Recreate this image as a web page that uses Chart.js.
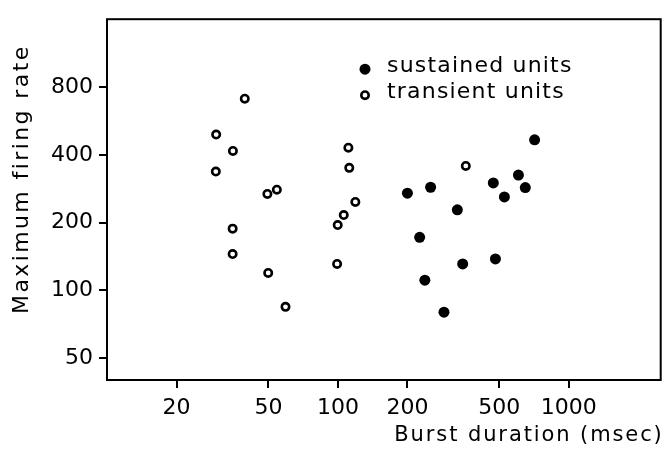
<!DOCTYPE html>
<html>
<head>
<meta charset="utf-8">
<script src="https://cdn.jsdelivr.net/npm/chart.js@4/dist/chart.umd.min.js"></script>
<style>
  html, body { margin: 0; padding: 0; background: #fff; }
  #wrap { width: 667px; height: 449px; }
</style>
</head>
<body>
<div id="wrap"><canvas id="myChart" width="667" height="449"></canvas></div>
<script>
// 読み取った値 (両対数)
const sustainedX = [711, 200, 252, 471, 605, 648, 526, 329, 226, 347, 481, 238, 288];
const sustainedY = [466, 270, 287, 300, 325, 286, 260, 228, 172, 131, 138, 111, 80];
const transientX = [39.5, 29.7, 35.1, 29.6, 49.5, 54.4, 111, 112, 119, 106, 99.8, 35, 35, 49.9, 99.2, 59.3, 358];
const transientY = [710, 492, 416, 337, 268, 280, 430, 350, 247, 216, 195, 188, 145, 119.5, 131, 84.5, 357];
const xTicks = [20, 50, 100, 200, 500, 1000];
const yTicks = [50, 100, 200, 400, 800];
const seriesNames = ['sustained units', 'transient units'];
const xTitle = 'Burst duration (msec)';
const yTitle = 'Maximum firing rate';

const FONT = '"DejaVu Sans", sans-serif';

function toPoints(xs, ys) {
    return xs.map((x, i) => ({ x: x, y: ys[i] }));
}

// 枠、凡例、軸タイトルを描く
const framePlugin = {
    id: 'frame',
    afterDraw(chart) {
        const ctx = chart.ctx;
        const a = chart.chartArea;
        ctx.save();
        ctx.strokeStyle = '#000';
        ctx.lineWidth = 2;
        ctx.strokeRect(a.left, a.top, a.right - a.left, a.bottom - a.top);

        ctx.fillStyle = '#000';
        ctx.letterSpacing = '1.2px';
        ctx.font = '22px ' + FONT;
        ctx.textBaseline = 'alphabetic';
        ctx.textAlign = 'left';
        // 凡例
        chart.data.datasets.forEach((ds, i) => {
            const mx = a.left + 258;
            const my = a.top + 50 + i * 26;
            ctx.beginPath();
            ctx.arc(mx, my, ds.pointRadius, 0, Math.PI * 2);
            ctx.fillStyle = ds.backgroundColor;
            ctx.fill();
            if (ds.borderWidth > 0) {
                ctx.lineWidth = ds.borderWidth;
                ctx.strokeStyle = ds.borderColor;
                ctx.stroke();
            }
            ctx.fillStyle = '#000';
            ctx.fillText(ds.label, a.left + 280, my + 3);
        });

        // 軸タイトル
        ctx.font = '21px ' + FONT;
        ctx.letterSpacing = '1.9px';
        ctx.textAlign = 'right';
        ctx.fillText(xTitle, a.right + 3, 441);

        ctx.font = '22px ' + FONT;
        ctx.letterSpacing = '2.4px';
        ctx.translate(28, a.top + 160);
        ctx.rotate(-Math.PI / 2);
        ctx.textAlign = 'center';
        ctx.fillText(yTitle, 0, 0);
        ctx.restore();
    }
};

const ctx = document.getElementById('myChart').getContext('2d');
const myChart = new Chart(ctx, {
    type: 'scatter',
    data: {
        datasets: [
            {
                label: seriesNames[0],
                data: toPoints(sustainedX, sustainedY),
                pointRadius: 5.5,
                pointHoverRadius: 5.5,
                backgroundColor: '#000',
                borderColor: '#000',
                borderWidth: 0
            },
            {
                label: seriesNames[1],
                data: toPoints(transientX, transientY),
                pointRadius: 3.7,
                pointHoverRadius: 3.7,
                backgroundColor: '#fff',
                borderColor: '#000',
                borderWidth: 2.6
            }
        ]
    },
    options: {
        responsive: false,
        devicePixelRatio: 1,
        animation: false,
        layout: { padding: { left: 0, right: 4, top: 8, bottom: 0 } },
        plugins: {
            legend: { display: false },
            tooltip: { enabled: false }
        },
        scales: {
            x: {
                type: 'logarithmic',
                min: 10,
                max: 2500,
                afterFit(scale) { scale.height = 69; },
                afterBuildTicks(scale) { scale.ticks = xTicks.map(v => ({ value: v })); },
                grid: { drawOnChartArea: false, drawTicks: true, tickLength: 8, color: '#000', lineWidth: 2 },
                border: { display: false },
                ticks: {
                    color: '#000',
                    font: { family: FONT, size: 22 },
                    padding: 7,
                    maxRotation: 0,
                    autoSkip: false,
                    callback: v => String(v)
                }
            },
            y: {
                type: 'logarithmic',
                min: 40,
                max: 1600,
                afterFit(scale) { scale.width = 107; },
                afterBuildTicks(scale) { scale.ticks = yTicks.map(v => ({ value: v })); },
                grid: { drawOnChartArea: false, drawTicks: true, tickLength: 8, color: '#000', lineWidth: 2 },
                border: { display: false },
                ticks: {
                    color: '#000',
                    font: { family: FONT, size: 22 },
                    padding: 6,
                    autoSkip: false,
                    callback: v => String(v)
                }
            }
        }
    },
    plugins: [framePlugin]
});
</script>
</body>
</html>
